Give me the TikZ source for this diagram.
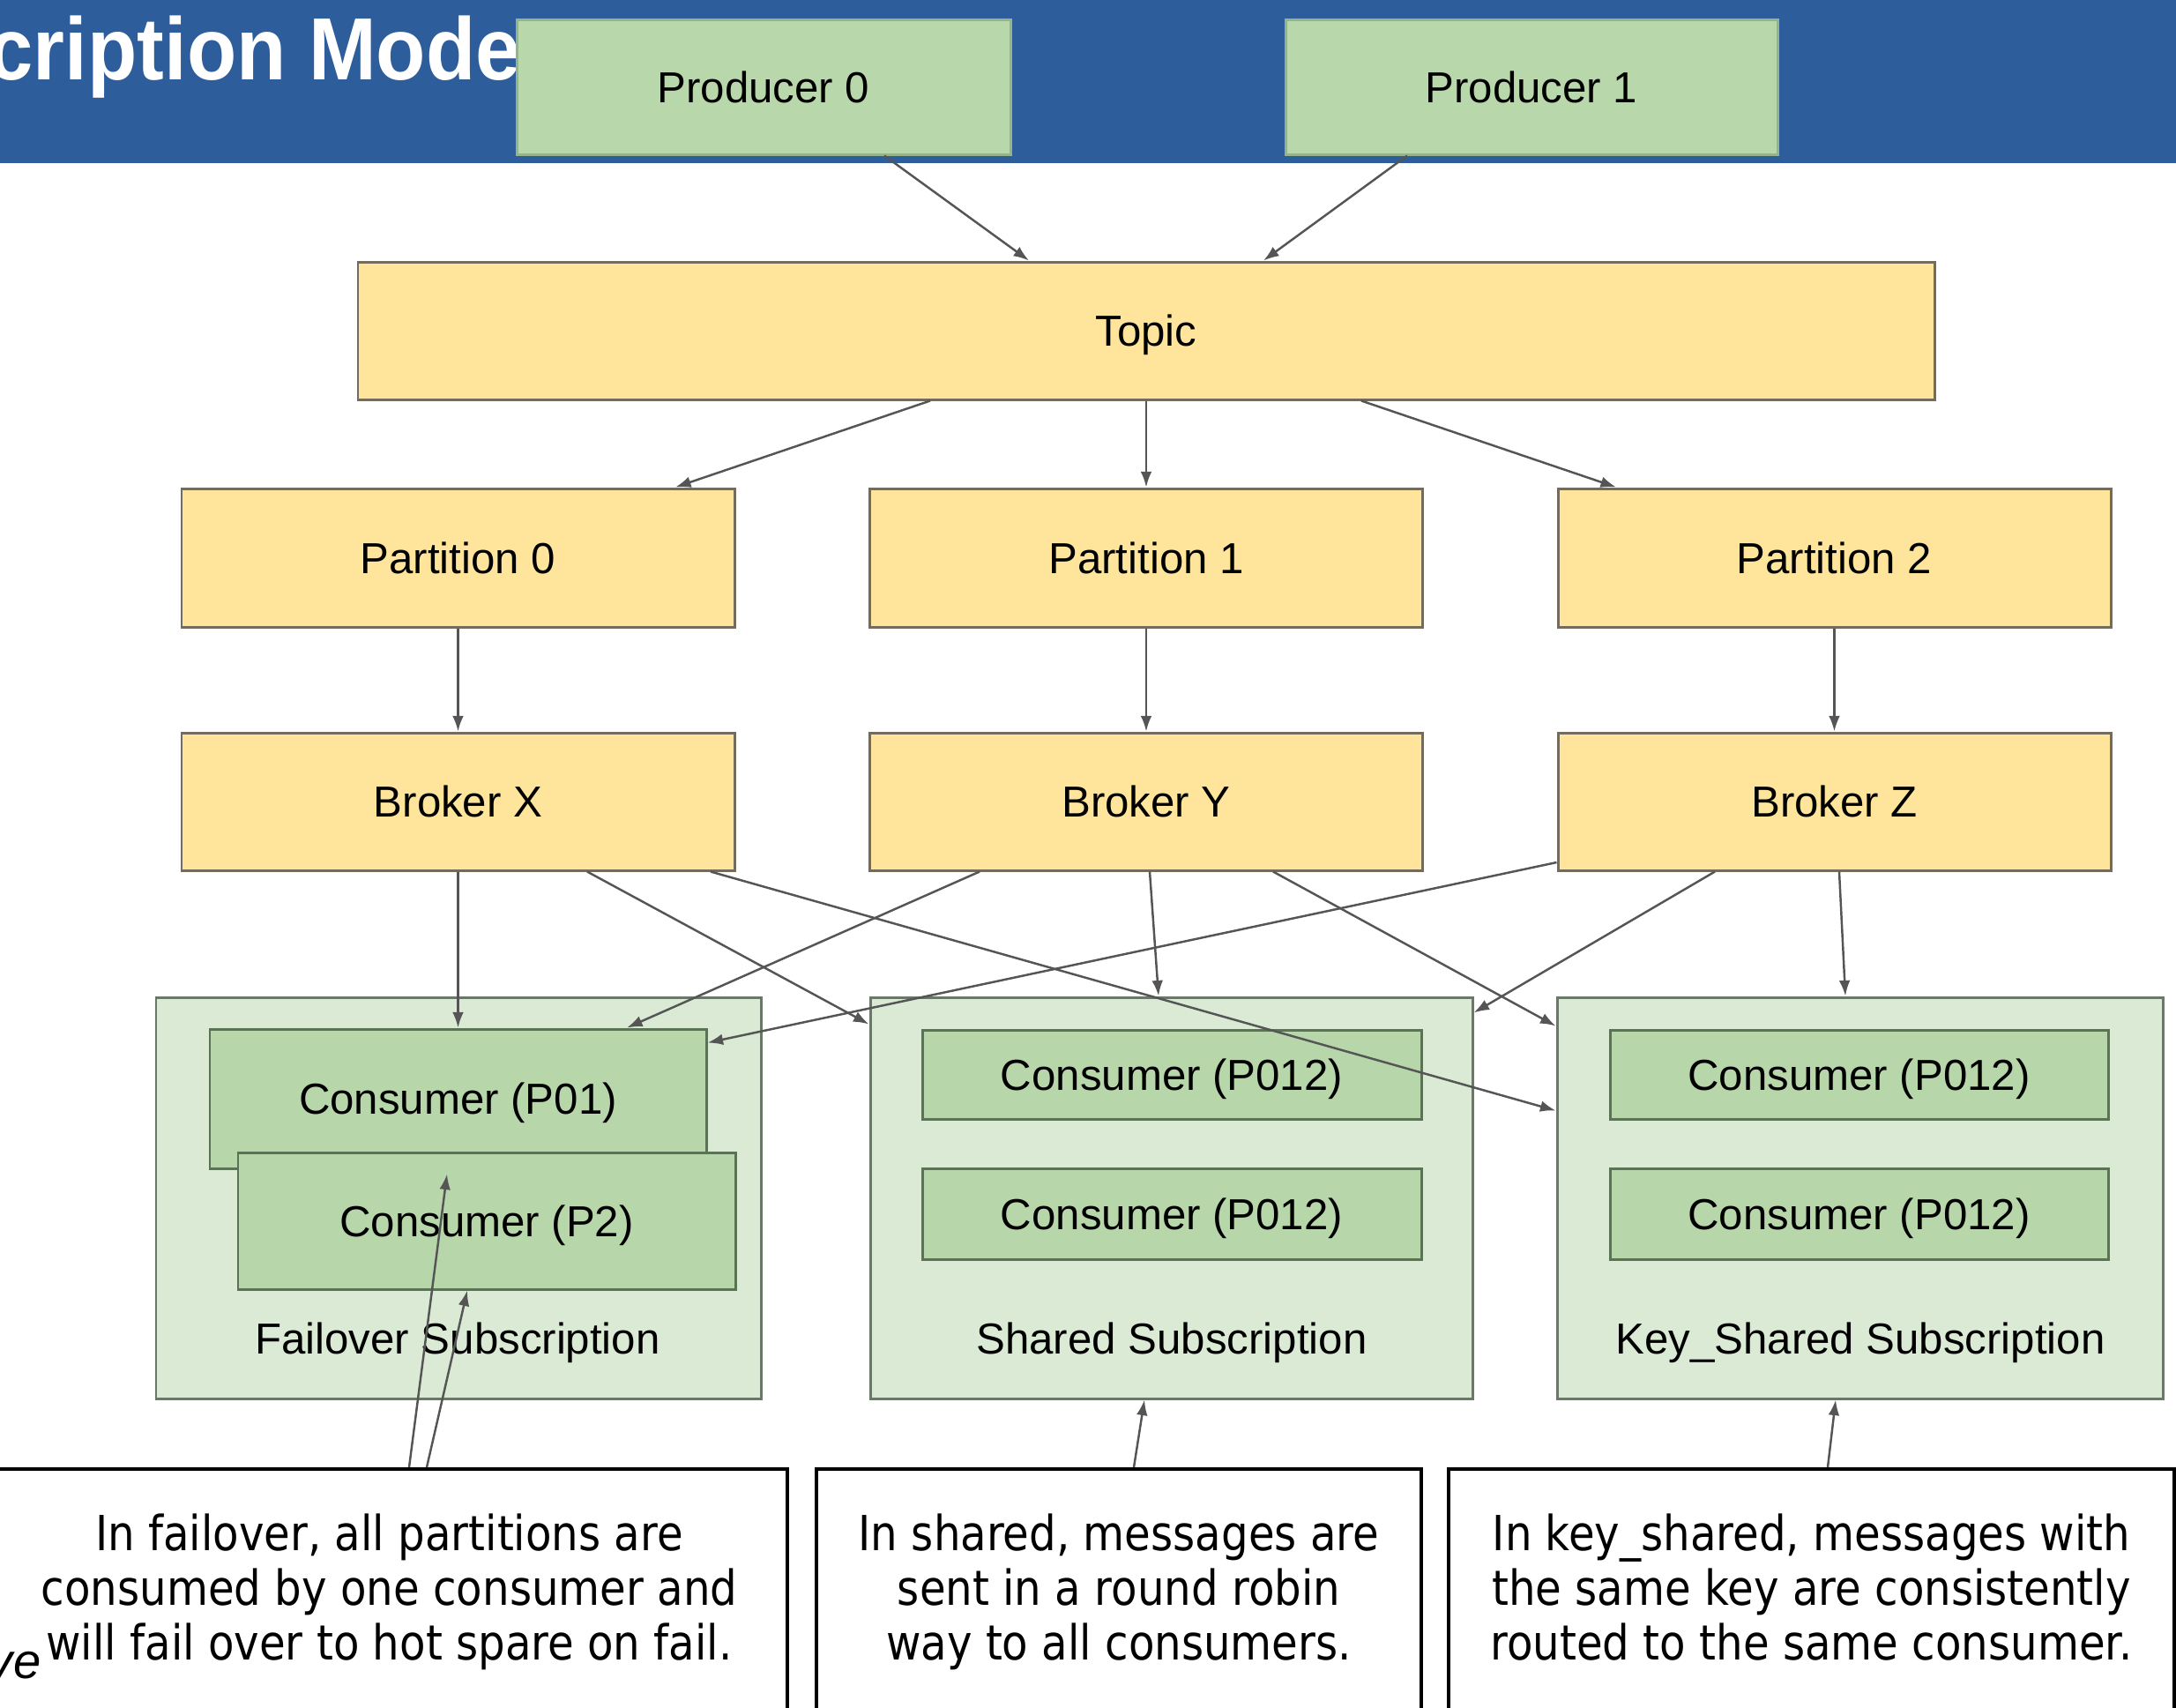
\documentclass[tikz,border=0pt]{standalone}
\usepackage{graphicx}
\usepackage{fontspec}
\setmainfont{Liberation Sans}
\newfontfamily\notefont[FakeStretch=0.88]{DejaVu Sans}
\usetikzlibrary{arrows.meta}

\definecolor{headerblue}{RGB}{45,93,155}
\definecolor{prodgreen}{RGB}{184,216,171}
\definecolor{prodline}{RGB}{150,180,140}
\definecolor{topicyellow}{RGB}{255,229,155}
\definecolor{yellowline}{RGB}{115,108,92}
\definecolor{subgreen}{RGB}{218,234,212}
\definecolor{subline}{RGB}{105,120,105}
\definecolor{consgreen}{RGB}{183,215,170}
\definecolor{consline}{RGB}{90,115,85}
\definecolor{arrowgray}{RGB}{85,85,85}

\tikzset{
  box/.style={line width=0.85pt, inner sep=0pt, text height=10pt, text depth=0pt,
    font=\fontsize{14}{16}\selectfont},
  producer/.style={box, fill=prodgreen, draw=prodline},
  yellowbox/.style={box, fill=topicyellow, draw=yellowline},
  subbox/.style={box, fill=subgreen, draw=subline},
  consumer/.style={box, fill=consgreen, draw=consline},
  sublabel/.style={anchor=base, inner sep=0pt, font=\fontsize{14}{16}\selectfont},
  note/.style={draw=black, line width=1.1pt, fill=white, align=center, inner sep=0pt,
    font=\notefont\fontsize{15.6}{17.6}\selectfont, execute at end node={\strut}},
  arr/.style={draw=arrowgray, line width=0.7pt, -{Latex[length=5pt,width=3.6pt]}}
}

\begin{document}
\begin{tikzpicture}
\useasboundingbox (0,0) rectangle (24.68,-19.36);

\fill[headerblue] (0,0) rectangle (24.68,-1.85);

\node[anchor=base west, inner sep=0pt, text=white, font=\fontsize{28.5}{34}\selectfont\bfseries] (title) at (-0.14,-0.90) {\scalebox{0.92}[1]{cription Mode}};

\node[producer, minimum width=5.60cm, minimum height=1.53cm] (p0) at (8.66,-0.985) {Producer 0};

\node[producer, minimum width=5.58cm, minimum height=1.53cm] (p1) at (17.37,-0.985) {Producer 1};

\node[yellowbox, minimum width=17.88cm, minimum height=1.56cm] (topic) at (13.00,-3.75) {Topic};

\node[yellowbox, minimum width=6.27cm, minimum height=1.57cm] (part0) at (5.195,-6.325) {Partition 0};

\node[yellowbox, minimum width=6.27cm, minimum height=1.57cm] (part1) at (13.00,-6.325) {Partition 1};

\node[yellowbox, minimum width=6.27cm, minimum height=1.57cm] (part2) at (20.805,-6.325) {Partition 2};

\node[yellowbox, minimum width=6.27cm, minimum height=1.56cm] (bx) at (5.195,-9.09) {Broker X};

\node[yellowbox, minimum width=6.27cm, minimum height=1.56cm] (by) at (13.00,-9.09) {Broker Y};

\node[yellowbox, minimum width=6.27cm, minimum height=1.56cm] (bz) at (20.805,-9.09) {Broker Z};

\node[subbox, minimum width=6.86cm, minimum height=4.55cm] (fail) at (5.20,-13.585) {};

\node[subbox, minimum width=6.83cm, minimum height=4.55cm] (shared) at (13.285,-13.585) {};

\node[subbox, minimum width=6.87cm, minimum height=4.55cm] (keysh) at (21.095,-13.585) {};

\node[consumer, minimum width=5.63cm, minimum height=1.58cm] (c01) at (5.195,-12.46) {Consumer (P01)};

\node[consumer, minimum width=5.64cm, minimum height=1.55cm] (c2) at (5.52,-13.845) {Consumer (P2)};

\node[consumer, minimum width=5.66cm, minimum height=1.01cm] (sc1) at (13.29,-12.185) {Consumer (P012)};

\node[consumer, minimum width=5.66cm, minimum height=1.03cm] (sc2) at (13.29,-13.765) {Consumer (P012)};

\node[consumer, minimum width=5.65cm, minimum height=1.01cm] (kc1) at (21.085,-12.185) {Consumer (P012)};

\node[consumer, minimum width=5.65cm, minimum height=1.03cm] (kc2) at (21.085,-13.765) {Consumer (P012)};

\node[sublabel] (faillabel) at (5.19,-15.35) {Failover Subscription};

\node[sublabel] (sharedlabel) at (13.29,-15.35) {Shared Subscription};

\node[sublabel] (keylabel) at (21.10,-15.35) {Key\_Shared Subscription};

\node[note, minimum width=9.03cm, minimum height=2.86cm, anchor=north] (note1) at (4.415,-16.64) {In failover, all partitions are\\consumed by one consumer and\\will fail over to hot spare on fail.};

\node[note, minimum width=6.86cm, minimum height=2.86cm, anchor=north] (note2) at (12.69,-16.64) {In shared, messages are\\sent in a round robin\\way to all consumers.};

\node[note, minimum width=8.23cm, minimum height=2.86cm, anchor=north] (note3) at (20.545,-16.64) {In key\_shared, messages with\\the same key are consistently\\routed to the same consumer.};

\node[anchor=base east, inner sep=0pt, font=\itshape\fontsize{16}{19}\selectfont] (vefrag) at (0.47,-19.03) {ve};

\draw[arr] ([xshift=1.37cm]p0.south) -- ([xshift=-1.33cm]topic.north);

\draw[arr] ([xshift=-1.41cm]p1.south) -- ([xshift=1.33cm]topic.north);

\draw[arr] ([xshift=-2.45cm]topic.south) -- ([xshift=2.465cm]part0.north);

\draw[arr] (topic.south) -- (part1.north);

\draw[arr] ([xshift=2.44cm]topic.south) -- ([xshift=-2.475cm]part2.north);

\draw[arr] (part0.south) -- (bx.north);

\draw[arr] (part1.south) -- (by.north);

\draw[arr] (part2.south) -- (bz.north);

\draw[arr] (bx.south) -- (c01.north);

\draw[arr] ([xshift=1.465cm]bx.south) -- ([yshift=-0.32cm]shared.north west);

\draw[arr] ([xshift=2.865cm]bx.south) -- ([yshift=-1.30cm]keysh.north west);

\draw[arr] ([xshift=-1.89cm]by.south) -- ([xshift=1.915cm]c01.north);

\draw[arr] ([xshift=0.04cm]by.south) -- ([xshift=-0.145cm]shared.north);

\draw[arr] ([xshift=1.44cm]by.south) -- ([yshift=-0.34cm]keysh.north west);

\draw[arr] ([yshift=-0.69cm]bz.west) -- ([yshift=-0.17cm]c01.north east);

\draw[arr] ([xshift=-1.355cm]bz.south) -- ([yshift=-0.19cm]shared.north east);

\draw[arr] ([xshift=0.055cm]bz.south) -- ([xshift=-0.165cm]keysh.north);

\draw[arr] ([xshift=0.225cm]note1.north) -- ([xshift=-0.125cm,yshift=-0.05cm]c01.south);

\draw[arr] ([xshift=0.425cm]note1.north) -- ([xshift=-0.22cm]c2.south);

\draw[arr] ([xshift=0.17cm]note2.north) -- ([xshift=-0.305cm]shared.south);

\draw[arr] ([xshift=0.185cm]note3.north) -- ([xshift=-0.275cm]keysh.south);
\end{tikzpicture}
\end{document}
